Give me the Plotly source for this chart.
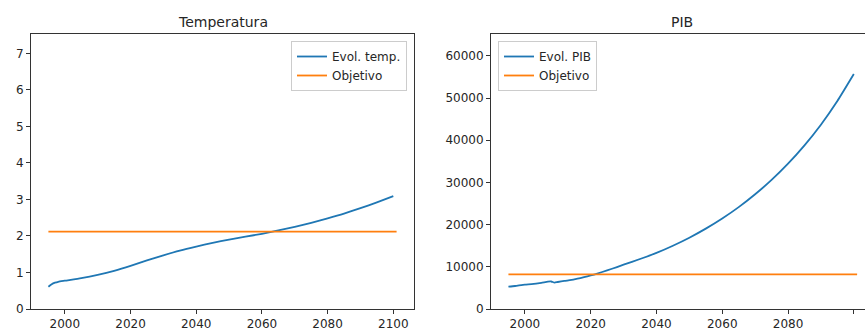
import plotly.graph_objects as go

# ---- data ----
temp_years = [1995, 1996, 1997, 1998, 2000, 2005, 2010, 2015, 2020, 2025, 2030, 2035, 2040,
              2045, 2050, 2055, 2060, 2065, 2070, 2075, 2080, 2085, 2090, 2095, 2100]
temp_values = [0.61, 0.68, 0.72, 0.745, 0.775, 0.845, 0.935, 1.045, 1.18, 1.33, 1.47, 1.60, 1.71,
               1.81, 1.90, 1.98, 2.06, 2.15, 2.25, 2.36, 2.48, 2.61, 2.76, 2.92, 3.09]

pib_years = [1995, 1997, 2000, 2002, 2005, 2007, 2008, 2009, 2010, 2012, 2015, 2018, 2020, 2022,
             2025, 2028, 2030, 2035, 2040, 2045, 2050, 2055, 2060, 2065, 2070, 2075, 2080,
             2085, 2090, 2095, 2100]
pib_values = [5290, 5450, 5800, 5900, 6200, 6480, 6520, 6250, 6400, 6650, 7000, 7550, 7950, 8400,
              9150, 9950, 10500, 11850, 13300, 15000, 16900, 19050, 21450, 24150, 27200, 30600,
              34450, 38800, 43700, 49300, 55700]

goal_years = [1995, 2101]
temp_goal = [2.12, 2.12]
pib_goal = [8200, 8200]

temp_yticks = [0, 1, 2, 3, 4, 5, 6, 7]
pib_yticks = [0, 10000, 20000, 30000, 40000, 50000, 60000]
xticks = [2000, 2020, 2040, 2060, 2080, 2100]

# ---- layout geometry (px) ----
W, H = 865, 328
def px_x(p): return p / W
def px_y(p): return (H - p) / H

BLUE = "#1f77b4"
ORANGE = "#ff7f0e"
FONT = "DejaVu Sans"
TXT = "#262626"

fig = go.Figure()
fig.add_trace(go.Scatter(x=temp_years, y=temp_values, mode="lines", name="Evol. temp.",
                         line=dict(color=BLUE, width=1.8, shape="spline", smoothing=0.5),
                         xaxis="x", yaxis="y", legend="legend"))
fig.add_trace(go.Scatter(x=goal_years, y=temp_goal, mode="lines", name="Objetivo",
                         line=dict(color=ORANGE, width=1.8),
                         xaxis="x", yaxis="y", legend="legend"))
fig.add_trace(go.Scatter(x=pib_years, y=pib_values, mode="lines", name="Evol. PIB",
                         line=dict(color=BLUE, width=1.8, shape="spline", smoothing=0.5),
                         xaxis="x2", yaxis="y2", legend="legend2"))
fig.add_trace(go.Scatter(x=goal_years, y=pib_goal, mode="lines", name="Objetivo",
                         line=dict(color=ORANGE, width=1.8),
                         xaxis="x2", yaxis="y2", legend="legend2"))

axis_common = dict(showgrid=False, zeroline=False, showline=True, linecolor="#333333",
                   linewidth=1, ticks="outside", ticklen=4, tickwidth=1, tickcolor="#333333",
                   tickfont=dict(family=FONT, size=12, color=TXT), automargin=False)

ydom = [px_y(309), px_y(34)]
fig.update_layout(
    width=W, height=H,
    margin=dict(l=0, r=0, t=0, b=0),
    paper_bgcolor="white", plot_bgcolor="white",
    font=dict(family=FONT, size=12, color=TXT),
    xaxis=dict(domain=[px_x(31), px_x(414)], range=[1989.7, 2106.3], tickvals=xticks,
               mirror=True, anchor="y", **axis_common),
    yaxis=dict(domain=ydom, range=[0, 7.53], tickvals=temp_yticks, mirror=True,
               anchor="x", **axis_common),
    xaxis2=dict(domain=[px_x(491), 1.0], range=[1989.7, 2103.4], tickvals=xticks,
                mirror=True, anchor="y2", **axis_common),
    yaxis2=dict(domain=ydom, range=[0, 65200], tickvals=pib_yticks, tickformat="d",
                mirror=False, anchor="x2", **axis_common),
    legend=dict(x=px_x(407), xanchor="right", y=px_y(41), yanchor="top",
                bgcolor="rgba(255,255,255,0.8)", bordercolor="#cccccc", borderwidth=1,
                font=dict(family=FONT, size=12, color=TXT), itemwidth=30,
                tracegroupgap=0),
    legend2=dict(x=px_x(498), xanchor="left", y=px_y(41), yanchor="top",
                 bgcolor="rgba(255,255,255,0.8)", bordercolor="#cccccc", borderwidth=1,
                 font=dict(family=FONT, size=12, color=TXT), itemwidth=30,
                 tracegroupgap=0),
    annotations=[
        dict(text="Temperatura", x=px_x(222.5), y=px_y(22), xref="paper", yref="paper",
             xanchor="center", yanchor="middle", showarrow=False,
             font=dict(family=FONT, size=14, color=TXT)),
        dict(text="PIB", x=px_x(682), y=px_y(22), xref="paper", yref="paper",
             xanchor="center", yanchor="middle", showarrow=False,
             font=dict(family=FONT, size=14, color=TXT)),
    ],
)

fig.write_html("out.html", config={"displayModeBar": False},
               post_script="document.body.style.margin='0';document.body.style.overflow='hidden';")
